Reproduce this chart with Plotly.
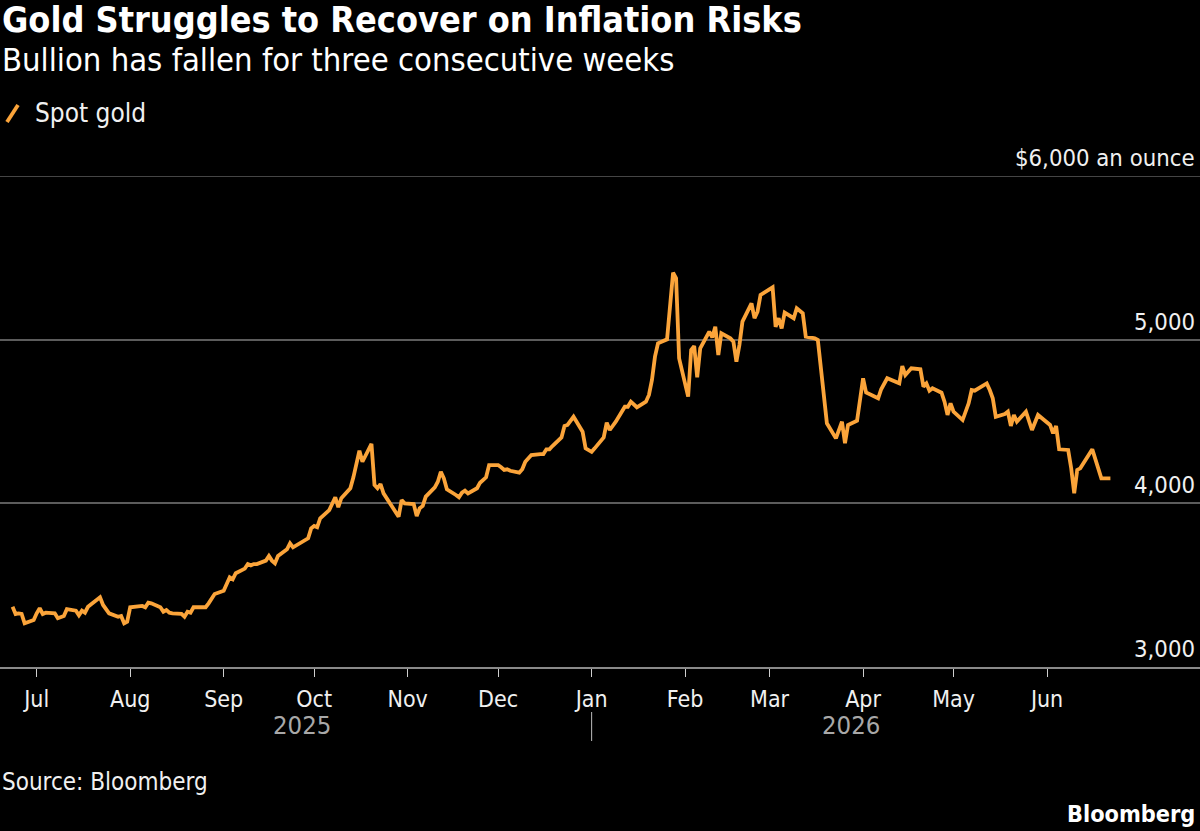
import plotly.graph_objects as go
import pandas as pd

# ---------------- data ----------------
dates = [
    "2025-06-23", "2025-06-24", "2025-06-25", "2025-06-26", "2025-06-27", "2025-06-30",
    "2025-07-01", "2025-07-02", "2025-07-03", "2025-07-04", "2025-07-07", "2025-07-08",
    "2025-07-10", "2025-07-11", "2025-07-14", "2025-07-15", "2025-07-16", "2025-07-17",
    "2025-07-18", "2025-07-22", "2025-07-23", "2025-07-25", "2025-07-28", "2025-07-29",
    "2025-07-30", "2025-07-31", "2025-08-01", "2025-08-04", "2025-08-05", "2025-08-06",
    "2025-08-07", "2025-08-08", "2025-08-11", "2025-08-12", "2025-08-13", "2025-08-14",
    "2025-08-15", "2025-08-18", "2025-08-19", "2025-08-20", "2025-08-21", "2025-08-22",
    "2025-08-25", "2025-08-26", "2025-08-27", "2025-08-28", "2025-08-29", "2025-09-01",
    "2025-09-02", "2025-09-03", "2025-09-04", "2025-09-05", "2025-09-08", "2025-09-09",
    "2025-09-10", "2025-09-11", "2025-09-12", "2025-09-15", "2025-09-16", "2025-09-17",
    "2025-09-18", "2025-09-19", "2025-09-22", "2025-09-23", "2025-09-24", "2025-09-26",
    "2025-09-29", "2025-09-30", "2025-10-01", "2025-10-02", "2025-10-03", "2025-10-06",
    "2025-10-08", "2025-10-09", "2025-10-10", "2025-10-13", "2025-10-14", "2025-10-16",
    "2025-10-17", "2025-10-20", "2025-10-21", "2025-10-22", "2025-10-23", "2025-10-24",
    "2025-10-27", "2025-10-29", "2025-10-30", "2025-10-31", "2025-11-03", "2025-11-04",
    "2025-11-05", "2025-11-06", "2025-11-07", "2025-11-10", "2025-11-11", "2025-11-12",
    "2025-11-13", "2025-11-14", "2025-11-17", "2025-11-18", "2025-11-19", "2025-11-20",
    "2025-11-21", "2025-11-24", "2025-11-25", "2025-11-26", "2025-11-27", "2025-11-28",
    "2025-12-01", "2025-12-02", "2025-12-03", "2025-12-04", "2025-12-05", "2025-12-08",
    "2025-12-09", "2025-12-10", "2025-12-12", "2025-12-15", "2025-12-16", "2025-12-17",
    "2025-12-18", "2025-12-19", "2025-12-22", "2025-12-23", "2025-12-24", "2025-12-26",
    "2025-12-29", "2025-12-30", "2025-12-31", "2026-01-01", "2026-01-02", "2026-01-05",
    "2026-01-06", "2026-01-07", "2026-01-09", "2026-01-12", "2026-01-13", "2026-01-14",
    "2026-01-16", "2026-01-19", "2026-01-20", "2026-01-21", "2026-01-22", "2026-01-23",
    "2026-01-26", "2026-01-28", "2026-01-29", "2026-01-30", "2026-02-02", "2026-02-03",
    "2026-02-04", "2026-02-05", "2026-02-06", "2026-02-09", "2026-02-10", "2026-02-11",
    "2026-02-12", "2026-02-13", "2026-02-16", "2026-02-17", "2026-02-18", "2026-02-19",
    "2026-02-20", "2026-02-23", "2026-02-24", "2026-02-25", "2026-02-26", "2026-03-02",
    "2026-03-03", "2026-03-04", "2026-03-05", "2026-03-06", "2026-03-09", "2026-03-10",
    "2026-03-12", "2026-03-13", "2026-03-16", "2026-03-17", "2026-03-20", "2026-03-23",
    "2026-03-25", "2026-03-26", "2026-03-27", "2026-03-30", "2026-04-01", "2026-04-02",
    "2026-04-06", "2026-04-07", "2026-04-09", "2026-04-13", "2026-04-14", "2026-04-15",
    "2026-04-17", "2026-04-20", "2026-04-21", "2026-04-22", "2026-04-23", "2026-04-24",
    "2026-04-27", "2026-04-28", "2026-04-29", "2026-04-30", "2026-05-01", "2026-05-04",
    "2026-05-06", "2026-05-07", "2026-05-08", "2026-05-11", "2026-05-12", "2026-05-13",
    "2026-05-14", "2026-05-15", "2026-05-18", "2026-05-19", "2026-05-20", "2026-05-21",
    "2026-05-22", "2026-05-25", "2026-05-27", "2026-05-29", "2026-06-02", "2026-06-03",
    "2026-06-04", "2026-06-05", "2026-06-08", "2026-06-09", "2026-06-10", "2026-06-11",
    "2026-06-12", "2026-06-16", "2026-06-19", "2026-06-22",
]

spot_gold = [
    3368, 3324, 3328, 3324, 3267, 3287,
    3328, 3359, 3324, 3332, 3328, 3298,
    3312, 3353, 3344, 3316, 3344, 3332,
    3368, 3426, 3379, 3328, 3307, 3312,
    3267, 3277, 3365, 3368, 3373, 3365,
    3393, 3389, 3365, 3338, 3348, 3332,
    3328, 3324, 3307, 3338, 3332, 3365,
    3368, 3365, 3389, 3420, 3446, 3466,
    3511, 3548, 3536, 3573, 3601, 3629,
    3621, 3629, 3629, 3650, 3678, 3650,
    3634, 3678, 3719, 3756, 3731, 3752,
    3786, 3847, 3862, 3854, 3909, 3959,
    4037, 3976, 4031, 4092, 4159, 4322,
    4254, 4363, 4112, 4092, 4118, 4061,
    3976, 3918, 4020, 4000, 3996, 3923,
    3970, 3984, 4041, 4098, 4132, 4193,
    4153, 4086, 4051, 4037, 4065, 4077,
    4061, 4092, 4126, 4143, 4159, 4234,
    4234, 4220, 4204, 4208, 4199, 4187,
    4208, 4254, 4295, 4301, 4301, 4330,
    4330, 4350, 4403, 4473, 4479, 4529,
    4438, 4336, 4326, 4315, 4336, 4403,
    4493, 4448, 4499, 4590, 4590, 4621,
    4587, 4621, 4662, 4754, 4896, 4978,
    5002, 5409, 5375, 4886, 4652, 4937,
    4961, 4770, 4947, 5049, 5014, 5079,
    4906, 5039, 5008, 4988, 4865, 4967,
    5110, 5222, 5131, 5171, 5273, 5320,
    5079, 5131, 5069, 5165, 5131, 5192,
    5161, 5018, 5008, 4998, 4489, 4397,
    4499, 4367, 4479, 4505, 4764, 4677,
    4642, 4697, 4764, 4733, 4839, 4784,
    4825, 4819, 4713, 4733, 4688, 4703,
    4676, 4621, 4540, 4611, 4560, 4509,
    4611, 4692, 4688, 4723, 4733, 4692,
    4642, 4529, 4546, 4560, 4473, 4540,
    4499, 4560, 4448, 4540, 4479, 4428,
    4473, 4330, 4326, 4214, 4061, 4204,
    4214, 4330, 4153, 4153,
]

month_ticks = ["2025-07-01", "2025-08-01", "2025-09-01", "2025-10-01", "2025-11-01",
               "2025-12-01", "2026-01-01", "2026-02-01", "2026-03-01", "2026-04-01",
               "2026-05-01", "2026-06-01"]
month_labels = ["Jul", "Aug", "Sep", "Oct", "Nov", "Dec",
                "Jan", "Feb", "Mar", "Apr", "May", "Jun"]
year_labels = ["2025", "2026"]

y_ticks = [3000, 4000, 5000, 6000]
y_labels = ["3,000", "4,000", "5,000", "$6,000 an ounce"]

series_name = "Spot gold"
title = "Gold Struggles to Recover on Inflation Risks"
subtitle = "Bullion has fallen for three consecutive weeks"
source = "Source: Bloomberg"

# ---------------- style ----------------
W, H = 1200, 831
T, B = 176, 164
PH = H - T - B
GOLD = "#fba43a"
TXT = "#f0f0f0"
GRID = "#5c5c5c"
FONT = "DejaVu Sans Condensed, Liberation Sans Narrow, DejaVu Sans, sans-serif"


def py(Y):
    return (H - B - Y) / PH


x_range = ["2025-06-18 20:00", "2026-07-21 17:00"]

fig = go.Figure()
fig.add_trace(go.Scatter(
    x=pd.to_datetime(dates), y=spot_gold, mode="lines", name=series_name,
    line=dict(color=GOLD, width=3.8), showlegend=False,
))

ann = []
# title / subtitle
ann.append(dict(text=f"<b>{title}</b>", x=0, y=py(-3), xref="paper", yref="paper",
                xanchor="left", yanchor="top", showarrow=False,
                font=dict(size=35.7, color="#ffffff", family=FONT)))
ann.append(dict(text=subtitle, x=0, y=py(39), xref="paper", yref="paper",
                xanchor="left", yanchor="top", showarrow=False,
                font=dict(size=32.5, color="#ffffff", family=FONT)))
# legend
ann.append(dict(text=series_name, x=33 / W, y=py(113), xref="paper", yref="paper",
                xanchor="left", yanchor="middle", showarrow=False,
                font=dict(size=26, color=TXT, family=FONT)))
# y-axis labels
for v, lab in zip(y_ticks, y_labels):
    ann.append(dict(text=lab, x=1, y=v, xref="paper", yref="y", xanchor="right",
                    yanchor="bottom", xshift=-3, yshift=2, showarrow=False,
                    font=dict(size=23.7, color=TXT, family=FONT)))
# year labels, centred on each year's span of data
d = pd.to_datetime(dates)
y2025 = d[d.year == 2025]
y2026 = d[d.year == 2026]
mid25 = y2025.min() + (pd.Timestamp("2026-01-01") - y2025.min()) / 2
mid26 = pd.Timestamp("2026-01-01") + (y2026.max() - pd.Timestamp("2026-01-01")) / 2
for xm, lab in zip([mid25, mid26], year_labels):
    ann.append(dict(text=lab, x=xm, y=py(725), xref="x", yref="paper",
                    xanchor="center", yanchor="middle", showarrow=False,
                    font=dict(size=25.5, color="#a8a8a8", family=FONT)))
# footer
ann.append(dict(text=source, x=0, y=py(782), xref="paper", yref="paper",
                xanchor="left", yanchor="middle", showarrow=False,
                font=dict(size=24, color=TXT, family=FONT)))
ann.append(dict(text="<b>Bloomberg</b>", x=1, y=py(813), xref="paper", yref="paper",
                xanchor="right", yanchor="middle", xshift=-3, showarrow=False,
                font=dict(size=23.3, color="#ffffff", family=FONT)))

shapes = [
    # top gridline at the top of the value range
    dict(type="line", xref="paper", yref="y", x0=0, x1=1, y0=y_ticks[-1], y1=y_ticks[-1],
         line=dict(color=GRID, width=1.5), layer="below"),
    # legend swatch (slanted stroke)
    dict(type="line", xref="paper", yref="paper", x0=7 / W, x1=18 / W,
         y0=py(122), y1=py(105), line=dict(color=GOLD, width=3.8)),
    # year separator
    dict(type="line", xref="x", yref="paper", x0="2026-01-01", x1="2026-01-01",
         y0=py(712), y1=py(741), line=dict(color="#bdbdbd", width=1)),
]

fig.update_layout(
    width=W, height=H,
    margin=dict(l=0, r=0, t=T, b=B),
    paper_bgcolor="#000000", plot_bgcolor="#000000",
    annotations=ann, shapes=shapes, showlegend=False,
    xaxis=dict(type="date", range=x_range, tickvals=month_ticks, ticktext=month_labels,
               ticks="outside", ticklen=8, tickwidth=1, tickcolor="#cfcfcf",
               ticklabelstandoff=2,
               showgrid=False, zeroline=False, showline=True, linecolor="#8a8a8a",
               linewidth=2, tickfont=dict(size=23, color=TXT, family=FONT)),
    yaxis=dict(range=[3000, 6000], tickvals=y_ticks, showticklabels=False,
               showgrid=True, gridcolor=GRID, gridwidth=1.5, zeroline=False,
               showline=False, fixedrange=True),
)

fig.write_html("out.html")
